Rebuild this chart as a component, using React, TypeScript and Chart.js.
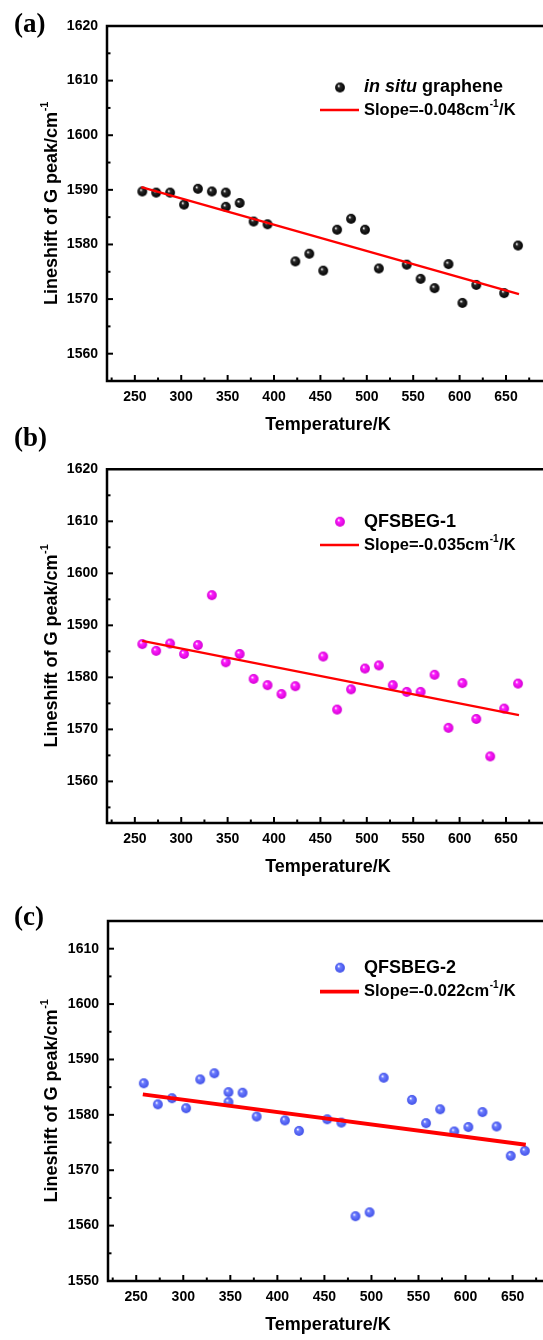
import React, { useEffect, useRef } from "react";
import { Chart, registerables } from "chart.js";
Chart.register(...registerables);

// ---------- data ----------
const tempA = [258, 273, 288, 303, 318, 333, 348, 348, 363, 378, 393, 423, 438, 453, 468, 483, 498, 513, 543, 558, 573, 588, 603, 618, 648, 663];
const valA = [1589.7, 1589.5, 1589.5, 1587.3, 1590.2, 1589.7, 1589.5, 1586.9, 1587.6, 1584.2, 1583.7, 1576.9, 1578.3, 1575.2, 1582.7, 1584.7, 1582.7, 1575.6, 1576.3, 1573.7, 1572.0, 1576.4, 1569.3, 1572.6, 1571.1, 1579.8];
const fitXA = [257, 664];
const fitYA = [1590.5, 1570.9];

const tempB = [258, 273, 288, 303, 318, 333, 348, 363, 378, 393, 408, 423, 453, 468, 483, 498, 513, 528, 543, 558, 573, 588, 603, 618, 633, 648, 663];
const valB = [1586.4, 1585.1, 1586.5, 1584.5, 1586.2, 1595.8, 1582.9, 1584.5, 1579.7, 1578.5, 1576.8, 1578.3, 1584.0, 1573.8, 1577.7, 1581.7, 1582.3, 1578.5, 1577.2, 1577.2, 1580.5, 1570.3, 1578.9, 1572.0, 1564.8, 1574.0, 1578.8];
const fitXB = [258, 664];
const fitYB = [1587.0, 1572.75];

const tempC = [258, 273, 288, 303, 318, 333, 348, 348, 363, 378, 408, 423, 453, 468, 483, 498, 513, 543, 558, 573, 588, 603, 618, 633, 648, 663];
const valC = [1585.7, 1581.9, 1583.0, 1581.2, 1586.4, 1587.5, 1584.1, 1582.3, 1584.0, 1579.7, 1579.0, 1577.1, 1579.2, 1578.6, 1561.7, 1562.4, 1586.7, 1582.7, 1578.5, 1581.0, 1577.0, 1577.8, 1580.5, 1577.9, 1572.6, 1573.5];
const fitXC = [257, 664];
const fitYC = [1583.7, 1574.6];

const xTickLabels = [250, 300, 350, 400, 450, 500, 550, 600, 650];
const yTicksAB = [1560, 1570, 1580, 1590, 1600, 1610, 1620];
const yTicksC = [1550, 1560, 1570, 1580, 1590, 1600, 1610];

const seriesNames = ["graphene", "QFSBEG-1", "QFSBEG-2"];
const slopeTexts = ["Slope=-0.048cm", "Slope=-0.035cm", "Slope=-0.022cm"];

// ---------- helpers ----------
function makeSphere(base: string, dark: string, r: number) {
  const s = Math.ceil(r * 2 + 2);
  const c = document.createElement("canvas");
  c.width = s;
  c.height = s;
  const g = c.getContext("2d")!;
  const cx = s / 2, cy = s / 2;
  const grad = g.createRadialGradient(cx - r * 0.3, cy - r * 0.35, r * 0.05, cx, cy, r);
  grad.addColorStop(0, "#ffffff");
  grad.addColorStop(0.3, base);
  grad.addColorStop(1, dark);
  g.fillStyle = grad;
  g.beginPath();
  g.arc(cx, cy, r, 0, Math.PI * 2);
  g.fill();
  return c;
}

const SANS = '"Liberation Sans", Arial, sans-serif';

type Spec = {
  top: number; h: number; plotTop: number; plotBottom: number; plotLeft: number;
  xmax: number; ymin: number; ymax: number; yTicks: number[];
  xs: number[]; ys: number[]; fx: number[]; fy: number[];
  label: string; labelY: number; markerY: number; lineY: number; fitWidth: number;
  sphere: [string, string]; idx: number;
};

const W = 543;

function Panel({ spec }: { spec: Spec }) {
  const ref = useRef<HTMLCanvasElement>(null);
  useEffect(() => {
    const canvas = ref.current!;
    const sphere = makeSphere(spec.sphere[0], spec.sphere[1], 4.9);
    const deco = {
      id: "deco",
      afterDraw(chart: any) {
        const ctx = chart.ctx as CanvasRenderingContext2D;
        const { left, top, bottom } = chart.chartArea;
        const xs = chart.scales.x, ys = chart.scales.y;
        ctx.save();
        ctx.strokeStyle = "#000";
        ctx.fillStyle = "#000";
        ctx.lineWidth = 2.5;
        ctx.beginPath();
        ctx.moveTo(W, top); ctx.lineTo(left, top); ctx.lineTo(left, bottom); ctx.lineTo(W, bottom);
        ctx.stroke();
        ctx.lineWidth = 2;
        for (let v = Math.ceil(spec.ymin / 5) * 5; v <= spec.ymax; v += 5) {
          const py = ys.getPixelForValue(v);
          if (py <= top + 1 || py >= bottom - 1) continue;
          const len = v % 10 === 0 ? 6 : 3.5;
          ctx.beginPath(); ctx.moveTo(left, py); ctx.lineTo(left + len, py); ctx.stroke();
        }
        for (let v = 225; v <= spec.xmax; v += 25) {
          const px = xs.getPixelForValue(v);
          const len = v % 50 === 0 ? 6 : 3.5;
          ctx.beginPath(); ctx.moveTo(px, bottom); ctx.lineTo(px, bottom - len); ctx.stroke();
        }
        // tick labels
        ctx.font = `bold 14px ${SANS}`;
        ctx.textAlign = "right"; ctx.textBaseline = "middle";
        spec.yTicks.forEach((v) => ctx.fillText(String(v), left - 9, ys.getPixelForValue(v)));
        ctx.textAlign = "center";
        xTickLabels.forEach((v) => ctx.fillText(String(v), xs.getPixelForValue(v), bottom + 16));
        // x title
        ctx.font = `bold 18px ${SANS}`;
        ctx.fillText("Temperature/K", 328, bottom + 44);
        // y title
        ctx.save();
        ctx.translate(52, (top + bottom) / 2);
        ctx.rotate(-Math.PI / 2);
        const main = "Lineshift of G peak/cm";
        ctx.font = `bold 18px ${SANS}`;
        const wm = ctx.measureText(main).width;
        ctx.font = `bold 11px ${SANS}`;
        const wsup = ctx.measureText("-1").width;
        const x0 = -(wm + wsup) / 2;
        ctx.textAlign = "left";
        ctx.font = `bold 18px ${SANS}`;
        ctx.fillText(main, x0, 0);
        ctx.font = `bold 11px ${SANS}`;
        ctx.fillText("-1", x0 + wm + 0.5, -7);
        ctx.restore();
        // legend
        const mx = 340, tx = 364;
        ctx.drawImage(sphere, mx - sphere.width / 2, spec.markerY - sphere.height / 2);
        ctx.textAlign = "left"; ctx.textBaseline = "middle";
        if (spec.idx === 0) {
          ctx.font = `italic bold 18px ${SANS}`;
          ctx.fillText("in situ", tx, spec.markerY);
          const wi = ctx.measureText("in situ ").width;
          ctx.font = `bold 18px ${SANS}`;
          ctx.fillText(seriesNames[0], tx + wi, spec.markerY);
        } else {
          ctx.font = `bold 18px ${SANS}`;
          ctx.fillText(seriesNames[spec.idx], tx, spec.markerY);
        }
        ctx.strokeStyle = "#ff0000";
        ctx.lineWidth = spec.fitWidth;
        ctx.beginPath(); ctx.moveTo(320, spec.lineY); ctx.lineTo(359, spec.lineY); ctx.stroke();
        ctx.font = `bold 16.5px ${SANS}`;
        const st = slopeTexts[spec.idx];
        ctx.fillText(st, tx, spec.lineY);
        const ws = ctx.measureText(st).width;
        ctx.font = `bold 10px ${SANS}`;
        ctx.fillText("-1", tx + ws + 0.5, spec.lineY - 6);
        const ws2 = ctx.measureText("-1").width;
        ctx.font = `bold 16.5px ${SANS}`;
        ctx.fillText("/K", tx + ws + ws2 + 1, spec.lineY);
        // panel label
        ctx.font = `bold 27px "Liberation Serif", "Times New Roman", serif`;
        ctx.textAlign = "left";
        ctx.fillText(spec.label, 14, spec.labelY);
        ctx.restore();
      },
    };
    const chart = new Chart(canvas, {
      type: "scatter",
      data: {
        datasets: [
          {
            data: spec.fx.map((x, i) => ({ x, y: spec.fy[i] })),
            showLine: true,
            borderColor: "#ff0000",
            borderWidth: spec.fitWidth,
            pointRadius: 0,
            fill: false,
          },
          {
            data: spec.xs.map((x, i) => ({ x, y: spec.ys[i] })),
            pointStyle: sphere as any,
            showLine: false,
          },
        ],
      },
      options: {
        animation: false,
        responsive: false,
        events: [],
        layout: { padding: { top: spec.plotTop, left: 0, right: 0, bottom: 0 } },
        plugins: { legend: { display: false }, tooltip: { enabled: false } },
        scales: {
          x: {
            type: "linear", min: 220, max: spec.xmax,
            grid: { display: false, drawTicks: false }, border: { display: false },
            ticks: { display: false },
            afterFit: (s: any) => { s.height = spec.h - spec.plotBottom; },
          },
          y: {
            type: "linear", min: spec.ymin, max: spec.ymax,
            grid: { display: false, drawTicks: false }, border: { display: false },
            ticks: { display: false },
            afterFit: (s: any) => { s.width = spec.plotLeft; },
          },
        },
      },
      plugins: [deco],
    });
    return () => chart.destroy();
  }, [spec]);
  return (
    <canvas
      ref={ref}
      width={W}
      height={spec.h}
      style={{ position: "absolute", left: 0, top: spec.top, width: W, height: spec.h }}
    />
  );
}

const specs: Spec[] = [
  {
    top: 0, h: 440, plotTop: 26, plotBottom: 381, plotLeft: 107, xmax: 684.5, ymin: 1555, ymax: 1620,
    yTicks: yTicksAB, xs: tempA, ys: valA, fx: fitXA, fy: fitYA, label: "(a)", labelY: 25,
    markerY: 87.5, lineY: 110, fitWidth: 2.3, sphere: ["#2a2a2a", "#000000"], idx: 0,
  },
  {
    top: 420, h: 460, plotTop: 49.3, plotBottom: 403, plotLeft: 107, xmax: 684.5, ymin: 1552, ymax: 1620,
    yTicks: yTicksAB, xs: tempB, ys: valB, fx: fitXB, fy: fitYB, label: "(b)", labelY: 19,
    markerY: 101.7, lineY: 125, fitWidth: 2.3, sphere: ["#ff1fff", "#d400d4"], idx: 1,
  },
  {
    top: 880, h: 460, plotTop: 41, plotBottom: 401, plotLeft: 108, xmax: 677, ymin: 1550, ymax: 1615,
    yTicks: yTicksC, xs: tempC, ys: valC, fx: fitXC, fy: fitYC, label: "(c)", labelY: 38,
    markerY: 87.7, lineY: 111.7, fitWidth: 3.8, sphere: ["#6d7dff", "#4050e8"], idx: 2,
  },
];

export default function App() {
  return (
    <div style={{ position: "absolute", left: 0, top: 0, width: W, height: 1340, overflow: "hidden", background: "#fff" }}>
      {specs.map((s) => (
        <Panel key={s.label} spec={s} />
      ))}
    </div>
  );
}
